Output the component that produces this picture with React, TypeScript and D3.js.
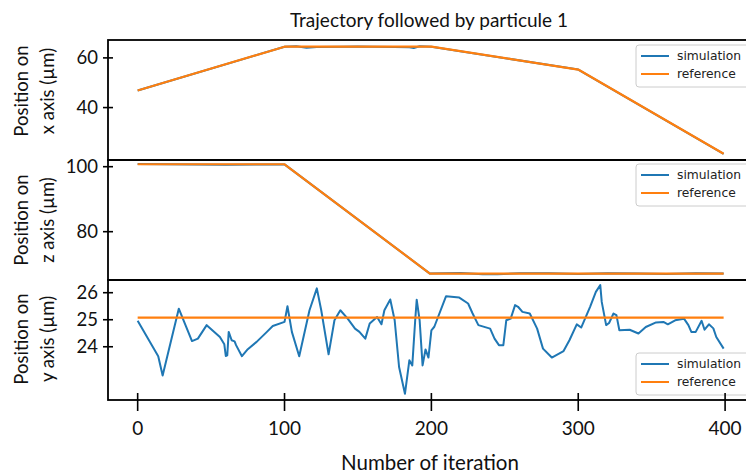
import React from "react";
import * as d3 from "d3";

// ---------- data ----------
const xTicks = [0, 100, 200, 300, 400];

// Panel 1: x position
const xRefIter = [0, 100, 200, 300, 399];
const xRefVal = [46.9, 64.5, 64.5, 55.3, 21.4];
const xSimIter = [0, 100, 108, 115, 122, 140, 150, 160, 175, 185, 188, 192, 200, 300, 399];
const xSimVal = [46.9, 64.5, 64.7, 64.1, 64.4, 64.5, 64.6, 64.5, 64.4, 64.3, 64.0, 64.7, 64.5, 55.3, 21.4];
const xAxisTicks = [40, 60];

// Panel 2: z position
const zRefIter = [0, 100, 199, 399];
const zRefVal = [100.75, 100.75, 67.1, 67.1];
const zSimIter = [0, 40, 60, 80, 100, 199, 220, 235, 245, 260, 280, 300, 320, 340, 360, 380, 399];
const zSimVal = [100.8, 100.7, 100.6, 100.7, 100.7, 67.1, 67.3, 66.9, 66.9, 67.2, 67.2, 67.0, 67.2, 67.1, 67.0, 67.2, 67.1];
const zAxisTicks = [80, 100];

// Panel 3: y position
const yRefIter = [0, 399];
const yRefVal = [25.08, 25.08];
const ySimIter = [
  0, 14, 17, 28, 37, 41, 47, 56, 59, 60, 61, 62, 64, 66, 67, 71, 75, 81, 88, 92,
  100, 102, 105, 110, 117, 122, 125, 130, 134, 138, 143, 148, 151, 155, 158, 163, 166, 168, 172, 175,
  178, 182, 185, 187, 189, 190, 192, 194, 196, 198, 200, 202, 210, 219, 225, 228, 232, 240, 243, 246,
  249, 251, 254, 257, 259, 262, 267, 272, 276, 282, 290, 294, 299, 302, 308, 312, 315, 316, 319, 321,
  324, 326, 328, 335, 341, 346, 353, 358, 361, 366, 372, 375, 377, 380, 384, 386, 389, 392, 394, 399,
];
const ySimVal = [
  24.96, 23.65, 22.94, 25.41, 24.21, 24.3, 24.8, 24.36, 24.09, 23.66, 23.68, 24.55, 24.24, 24.2, 24.06, 23.65, 23.91, 24.18, 24.55, 24.77,
  24.92, 25.5, 24.55, 23.65, 25.35, 26.16, 25.35, 23.72, 24.98, 25.35, 25.04, 24.67, 24.55, 24.3, 24.86, 25.1, 24.83, 25.35, 25.75, 24.98,
  23.25, 22.26, 23.5, 23.31, 25.0, 25.74, 24.98, 23.31, 23.9, 23.6, 24.61, 24.74, 25.87, 25.82, 25.6, 25.24, 24.8, 24.67, 24.3, 24.06,
  24.06, 24.98, 25.04, 25.54, 25.48, 25.29, 25.23, 24.67, 23.93, 23.6, 23.84, 24.24, 24.83, 24.71, 25.47, 26.03, 26.28, 25.66, 24.8, 24.88,
  25.23, 25.17, 24.61, 24.63, 24.49, 24.73, 24.9, 24.92, 24.83, 24.98, 25.04, 24.8, 24.55, 24.55, 24.96, 24.63, 24.83, 24.68, 24.36, 23.93,
];
const yAxisTicks = [24, 25, 26];

const seriesNames = ["simulation", "reference"];
const BLUE = "#1f77b4";
const ORANGE = "#ff7f0e";

// ---------- layout ----------
const W = 746;
const H = 475;
const left = 108;
const right = 753;
const LABEL_FONT = "Lato, 'Open Sans', sans-serif";

const xScale = d3.scaleLinear().domain([-20.2, 419]).range([left, right]);

type Panel = {
  top: number;
  bottom: number;
  domain: [number, number];
  ticks: number[];
  label: string;
  sim: [number[], number[]];
  ref: [number[], number[]];
  legendTop: number;
  labelMid: number;
};

const panels: Panel[] = [
  { top: 40, bottom: 160, domain: [18.9, 67.2], ticks: xAxisTicks, label: "x axis (µm)", sim: [xSimIter, xSimVal], ref: [xRefIter, xRefVal], legendTop: 45, labelMid: 91 },
  { top: 160, bottom: 280, domain: [65.13, 102.06], ticks: zAxisTicks, label: "z axis (µm)", sim: [zSimIter, zSimVal], ref: [zRefIter, zRefVal], legendTop: 164, labelMid: 220 },
  { top: 280, bottom: 400, domain: [22.03, 26.47], ticks: yAxisTicks, label: "y axis (µm)", sim: [ySimIter, ySimVal], ref: [yRefIter, yRefVal], legendTop: 353, labelMid: 339 },
];

function Legend({ top }: { top: number }) {
  const bx = 636;
  const colors = [BLUE, ORANGE];
  return (
    <g>
      <rect x={bx} y={top} width={118} height={42} rx={3} fill="white" fillOpacity={0.8} stroke="#cccccc" strokeWidth={1} />
      {seriesNames.map((n, i) => (
        <g key={n}>
          <line x1={bx + 5} x2={bx + 33} y1={top + 11 + i * 18} y2={top + 11 + i * 18} stroke={colors[i]} strokeWidth={2} />
          <text x={bx + 41} y={top + 11 + i * 18} dy="0.35em" fontFamily="'DejaVu Sans', sans-serif" fontSize={12.3} fill="#222">
            {n}
          </text>
        </g>
      ))}
    </g>
  );
}

function PanelView({ p }: { p: Panel }) {
  const y = d3.scaleLinear().domain(p.domain).range([p.bottom, p.top]);
  const line = d3
    .line<[number, number]>()
    .x((d) => xScale(d[0]))
    .y((d) => y(d[1]));
  const simPts: [number, number][] = p.sim[0].map((t, i) => [t, p.sim[1][i]]);
  const refPts: [number, number][] = p.ref[0].map((t, i) => [t, p.ref[1][i]]);
  return (
    <g>
      <path d={line(simPts) || ""} fill="none" stroke={BLUE} strokeWidth={2} strokeLinejoin="round" />
      <path d={line(refPts) || ""} fill="none" stroke={ORANGE} strokeWidth={2.2} strokeLinejoin="round" />
      <rect x={left} y={p.top} width={right - left} height={p.bottom - p.top} fill="none" stroke="black" strokeWidth={1.8} />
      {p.ticks.map((t) => (
        <g key={t}>
          <line x1={left - 5} x2={left + 5} y1={y(t)} y2={y(t)} stroke="black" strokeWidth={1.6} />
          <text x={98} y={y(t)} dy="0.35em" textAnchor="end" fontFamily={LABEL_FONT} fontSize={18.5} fill="#111">
            {t}
          </text>
        </g>
      ))}
      <text transform={`translate(28,${p.labelMid}) rotate(-90)`} textAnchor="middle" fontFamily={LABEL_FONT} fontSize={18.5} fill="#111">
        Position on
      </text>
      <text transform={`translate(54,${p.labelMid}) rotate(-90)`} textAnchor="middle" fontFamily={LABEL_FONT} fontSize={18.5} fill="#111">
        {p.label}
      </text>
      <Legend top={p.legendTop} />
    </g>
  );
}

export default function App() {
  return (
    <svg width={W} height={H} style={{ position: "absolute", left: 0, top: 0, background: "white" }}>
      <rect x={0} y={0} width={W} height={H} fill="white" />
      <text x={429} y={27} textAnchor="middle" fontFamily={LABEL_FONT} fontSize={19} fill="#111">
        Trajectory followed by particule 1
      </text>
      {panels.map((p, i) => (
        <PanelView key={i} p={p} />
      ))}
      {xTicks.map((t) => (
        <g key={t}>
          <line x1={xScale(t)} x2={xScale(t)} y1={393} y2={411} stroke="black" strokeWidth={1.6} />
          <text x={xScale(t)} y={435} textAnchor="middle" fontFamily={LABEL_FONT} fontSize={19} fill="#111">
            {t}
          </text>
        </g>
      ))}
      <text x={430} y={470} textAnchor="middle" fontFamily={LABEL_FONT} fontSize={20.5} fill="#111">
        Number of iteration
      </text>
    </svg>
  );
}
